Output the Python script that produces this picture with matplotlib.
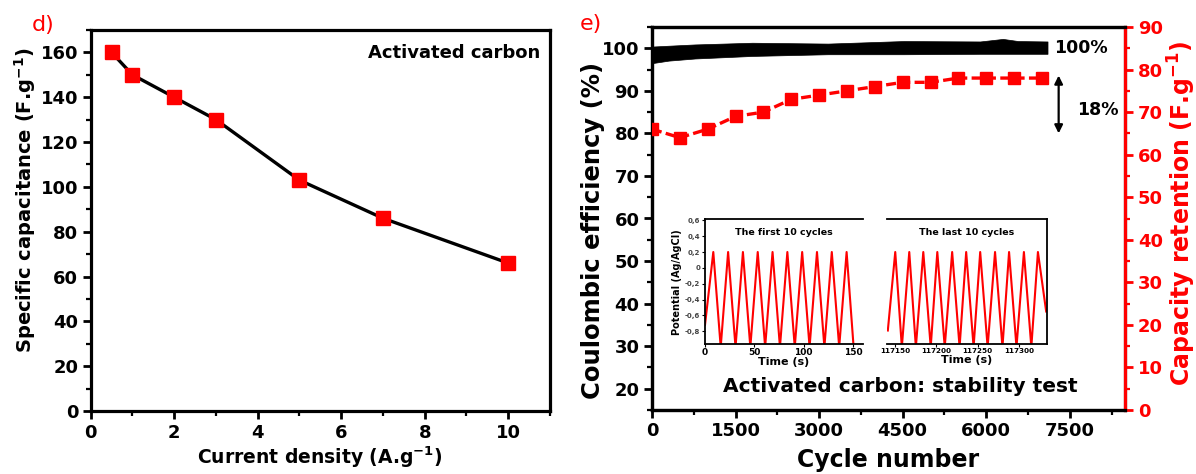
import matplotlib
matplotlib.use('Agg')
import matplotlib.pyplot as plt
from matplotlib.ticker import MultipleLocator, FixedLocator

plt.rcParams['font.family'] = ['DejaVu Sans']
plt.rcParams['font.weight'] = 'bold'
plt.rcParams['axes.labelweight'] = 'bold'

RED = '#ff0000'

# ---------------- data: panel d ----------------
current_density = [0.5, 1, 2, 3, 5, 7, 10]
specific_capacitance = [160, 150, 140, 130, 103, 86, 66]

# ---------------- data: panel e ----------------
ret_cycles = [0, 500, 1000, 1500, 2000, 2500, 3000, 3500, 4000, 4500, 5000, 5500, 6000, 6500, 7000]
ret_capacity = [66, 64, 66, 69, 70, 73, 74, 75, 76, 77, 77, 78, 78, 78, 78]

ce_cycles = [0, 300, 770, 1800, 3160, 4520, 5890, 6300, 6570, 7100]
ce_upper = [100.4, 100.6, 100.9, 101.3, 101.1, 101.7, 101.6, 102.2, 101.7, 101.6]
ce_lower = [96.5, 97.1, 97.6, 98.2, 98.6, 98.6, 98.7, 98.7, 98.7, 98.7]

# inset: first 10 cycles (time s, potential V)
first_t = [0, 8.4, 15.9, 23.4, 30.9, 38.4, 45.9, 53.4, 60.9, 68.4, 75.9, 83.4,
           90.9, 98.4, 105.9, 113.4, 120.9, 128.4, 135.9, 143.4, 150.5]
first_v = [-0.72, 0.2, -1.0, 0.2, -1.0, 0.2, -1.0, 0.2, -1.0, 0.2, -1.0, 0.2,
           -1.0, 0.2, -1.0, 0.2, -1.0, 0.2, -1.0, 0.2, -1.0]
# inset: last 10 cycles
last_t = [117141, 117150, 117158, 117167, 117175, 117184, 117193, 117201, 117210,
          117219, 117228, 117236, 117245, 117253, 117262, 117271, 117280, 117288,
          117297, 117306, 117315, 117323, 117333]
last_v = [-0.79, 0.2, -1.0, 0.2, -1.0, 0.2, -1.0, 0.2, -1.0, 0.2, -1.0, 0.2,
          -1.0, 0.2, -1.0, 0.2, -1.0, 0.2, -1.0, 0.2, -1.0, 0.2, -0.55]

inset_yticks = [-0.8, -0.6, -0.4, -0.2, 0, 0.2, 0.4, 0.6]
inset_ylabels = ['-0,8', '-0,6', '-0,4', '-0,2', '0', '0,2', '0,4', '0,6']
first_xticks = [0, 50, 100, 150]
last_xticks = [117150, 117200, 117250, 117300]

W, H = 1196, 474
fig = plt.figure(figsize=(W / 100, H / 100), dpi=100)


def px_rect(l, t, r, b):
    return [l / W, 1 - b / H, (r - l) / W, (b - t) / H]


SPW = 2.3


def style_spines(ax, color='black'):
    for s in ax.spines.values():
        s.set_linewidth(SPW)
        s.set_color(color)


# ================= panel d =================
ax1 = fig.add_axes(px_rect(90.7, 30, 550, 411))
ax1.plot(current_density, specific_capacitance, color='black', lw=2.4, zorder=2)
ax1.plot(current_density, specific_capacitance, ls='none', marker='s', ms=10,
         color=RED, mec=RED, zorder=3, clip_on=False)
ax1.set_xlim(0, 11)
ax1.set_ylim(0, 170)
ax1.xaxis.set_major_locator(MultipleLocator(2))
ax1.xaxis.set_minor_locator(MultipleLocator(1))
ax1.yaxis.set_major_locator(MultipleLocator(20))
ax1.yaxis.set_minor_locator(MultipleLocator(10))
style_spines(ax1)
ax1.tick_params(which='major', direction='out', length=6, width=2, labelsize=13, pad=3)
ax1.tick_params(which='minor', direction='out', length=3.5, width=1.6)
ax1.tick_params(top=False, right=False, which='both')
ax1.set_xlabel('Current density (A.g$^{\\mathbf{-1}}$)', fontsize=13.5, va='center')
ax1.set_ylabel('Specific capacitance (F.g$^{\\mathbf{-1}}$)', fontsize=14, va='center')
ax1.xaxis.set_label_coords(0.499, -0.121)
ax1.yaxis.set_label_coords(-0.143, 0.554)
ax1.text(0.978, 0.94, 'Activated carbon', transform=ax1.transAxes, ha='right',
         va='center', fontsize=13, fontweight='bold')

fig.text(43 / W, 1 - 25 / H, 'd)', color=RED, fontsize=16, fontweight='normal',
         ha='center', va='center')
fig.text(591 / W, 1 - 24 / H, 'e)', color=RED, fontsize=16, fontweight='normal',
         ha='center', va='center')

# ================= panel e =================
ax2 = fig.add_axes(px_rect(652, 27, 1125.5, 410))
ax2.fill_between(ce_cycles, ce_lower, ce_upper, color='black', lw=0.5, zorder=2)
ax2.set_xlim(0, 8500)
ax2.set_ylim(15, 105)
ax2.xaxis.set_major_locator(MultipleLocator(1500))
ax2.xaxis.set_minor_locator(MultipleLocator(750))
ax2.yaxis.set_major_locator(MultipleLocator(10))
ax2.yaxis.set_minor_locator(MultipleLocator(5))
style_spines(ax2)
ax2.tick_params(which='major', direction='out', length=6, width=2, labelsize=13, pad=3)
ax2.tick_params(which='minor', direction='out', length=3.5, width=1.6)
ax2.tick_params(top=False, right=False, which='both')
ax2.set_xlabel('Cycle number', fontsize=17, va='center')
ax2.set_ylabel('Coulombic efficiency (%)', fontsize=17.5, va='center')
ax2.xaxis.set_label_coords(0.498, -0.13)
ax2.yaxis.set_label_coords(-0.125, 0.47)

ax2.text(7217, 100.0, '100%', ha='left', va='center', fontsize=12.5, fontweight='bold')
ax2.text(7630, 85.4, '18%', ha='left', va='center', fontsize=12.5, fontweight='bold')
ax2.annotate('', xy=(7300, 80.0), xytext=(7300, 93.6),
             arrowprops=dict(arrowstyle='<|-|>', color='black', lw=1.6,
                             mutation_scale=12, shrinkA=0, shrinkB=0),
             annotation_clip=False)
ax2.text(0.524, 0.062, 'Activated carbon: stability test', transform=ax2.transAxes,
         ha='center', va='center', fontsize=14.5, fontweight='bold')

ax2r = ax2.twinx()
ax2r.plot(ret_cycles, ret_capacity, color=RED, lw=2.4, ls=(0, (3.0, 1.3)),
          marker='s', ms=8.5, mec=RED, mfc=RED, zorder=3)
ax2r.set_ylim(0, 90)
ax2r.yaxis.set_major_locator(MultipleLocator(10))
ax2r.yaxis.set_minor_locator(MultipleLocator(5))
for s in ax2r.spines.values():
    s.set_linewidth(SPW)
ax2r.spines['right'].set_color(RED)
ax2r.tick_params(which='major', direction='out', length=6, width=2, labelsize=13,
                 colors=RED, pad=3)
ax2r.tick_params(which='minor', direction='out', length=3.5, width=1.6, colors=RED)
ax2r.set_ylabel('Capacity retention (F.g$^{\\mathbf{-1}}$)', fontsize=17, color=RED,
                va='center')
ax2r.yaxis.set_label_coords(1.119, 0.513)

# ================= insets =================
in1 = fig.add_axes(px_rect(705, 219.5, 863, 344))
in1.plot(first_t, first_v, color=RED, lw=1.5)
in1.set_xlim(0, 160)
in1.set_ylim(-0.96, 0.61)
in1.yaxis.set_major_locator(FixedLocator(inset_yticks))
in1.set_yticklabels(inset_ylabels)
in1.xaxis.set_major_locator(FixedLocator(first_xticks))
in1.spines['right'].set_visible(False)
for s in ['left', 'top', 'bottom']:
    in1.spines[s].set_linewidth(1.3)
in1.tick_params(axis='y', direction='out', length=2, width=0.8, labelsize=5,
                labelcolor='#444444', pad=1.5)
in1.tick_params(axis='x', direction='out', length=2, width=0.8, labelsize=6.5, pad=1)
in1.set_ylabel('Potential (Ag/AgCl)', fontsize=7, labelpad=2)
in1.set_xlabel('Time (s)', fontsize=8, labelpad=0)
in1.text(0.5, 0.895, 'The first 10 cycles', transform=in1.transAxes, ha='center',
         va='center', fontsize=6.8, fontweight='bold')

in2 = fig.add_axes(px_rect(887, 219.5, 1047, 344))
in2.plot(last_t, last_v, color=RED, lw=1.5)
in2.set_xlim(117140, 117334)
in2.set_ylim(-0.96, 0.61)
in2.xaxis.set_major_locator(FixedLocator(last_xticks))
in2.set_xticklabels([str(v) for v in last_xticks])
in2.set_yticks([])
in2.spines['left'].set_visible(False)
for s in ['right', 'top', 'bottom']:
    in2.spines[s].set_linewidth(1.3)
in2.tick_params(axis='x', direction='out', length=2, width=0.8, labelsize=5.2, pad=1)
in2.set_xlabel('Time (s)', fontsize=8, labelpad=0.5)
in2.text(0.5, 0.895, 'The last 10 cycles', transform=in2.transAxes, ha='center',
         va='center', fontsize=6.8, fontweight='bold')

fig.savefig('out.png', dpi=100)
